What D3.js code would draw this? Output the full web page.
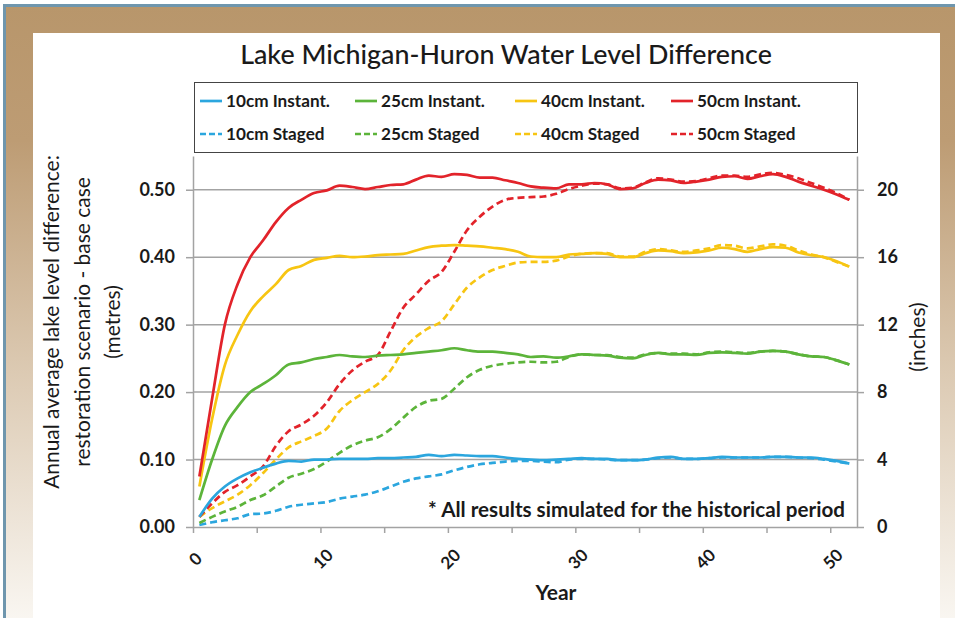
<!DOCTYPE html>
<html>
<head>
<meta charset="utf-8">
<script src="https://cdn.jsdelivr.net/npm/d3@7"></script>
<style>
  body { margin: 0; background: #fff; }
  text { font-family: Lato, "Open Sans", sans-serif; fill: #1a1a1a; }
</style>
</head>
<body>
<script>
// years are mid-year positions 0.5 .. 51.5
const years = d3.range(0.5, 52, 1);

const inst10 = [0.015,0.042,0.060,0.072,0.081,0.088,0.094,0.098,0.097,0.100,
  0.100,0.101,0.101,0.101,0.102,0.102,0.103,0.104,0.107,0.105,
  0.107,0.106,0.105,0.105,0.103,0.101,0.100,0.099,0.100,0.101,
  0.102,0.101,0.101,0.099,0.099,0.100,0.103,0.104,0.101,0.101,
  0.102,0.104,0.103,0.103,0.103,0.104,0.104,0.103,0.103,0.101,
  0.098,0.094];
const staged10 = [0.003,0.007,0.010,0.013,0.019,0.020,0.024,0.030,0.033,0.035,
  0.037,0.042,0.045,0.048,0.053,0.060,0.067,0.072,0.075,0.078,
  0.084,0.089,0.093,0.095,0.097,0.098,0.098,0.097,0.096,0.100,
  0.101,0.101,0.100,0.099,0.099,0.100,0.102,0.103,0.101,0.101,
  0.102,0.103,0.103,0.103,0.103,0.104,0.104,0.103,0.102,0.100,
  0.097,0.094];
const inst25 = [0.040,0.100,0.150,0.178,0.200,0.212,0.225,0.241,0.244,0.249,
  0.252,0.255,0.253,0.252,0.254,0.255,0.256,0.258,0.260,0.262,
  0.265,0.262,0.260,0.260,0.258,0.256,0.252,0.253,0.251,0.253,
  0.256,0.255,0.254,0.251,0.250,0.255,0.258,0.256,0.256,0.255,
  0.258,0.259,0.258,0.257,0.260,0.261,0.260,0.256,0.253,0.252,
  0.247,0.241];
const staged25 = [0.006,0.015,0.023,0.030,0.040,0.047,0.060,0.073,0.079,0.086,
  0.097,0.110,0.121,0.128,0.133,0.145,0.162,0.178,0.187,0.190,
  0.205,0.222,0.233,0.239,0.242,0.244,0.245,0.244,0.245,0.252,
  0.256,0.255,0.255,0.252,0.251,0.256,0.258,0.257,0.257,0.256,
  0.259,0.260,0.259,0.258,0.260,0.261,0.260,0.256,0.253,0.252,
  0.247,0.241];
const inst40 = [0.060,0.160,0.240,0.285,0.320,0.342,0.360,0.381,0.387,0.396,
  0.399,0.402,0.400,0.401,0.403,0.404,0.405,0.410,0.415,0.417,
  0.418,0.417,0.416,0.414,0.412,0.408,0.401,0.400,0.400,0.404,
  0.405,0.406,0.405,0.400,0.400,0.406,0.410,0.409,0.406,0.407,
  0.410,0.414,0.412,0.408,0.412,0.415,0.414,0.407,0.403,0.400,
  0.394,0.386];
const staged40 = [0.015,0.028,0.038,0.048,0.062,0.080,0.100,0.118,0.127,0.135,
  0.146,0.172,0.188,0.200,0.212,0.232,0.262,0.282,0.295,0.305,
  0.330,0.355,0.370,0.381,0.387,0.392,0.393,0.393,0.395,0.401,
  0.405,0.406,0.406,0.401,0.401,0.408,0.412,0.410,0.408,0.410,
  0.413,0.418,0.417,0.413,0.416,0.419,0.417,0.410,0.404,0.400,
  0.393,0.386];
const inst50 = [0.075,0.190,0.300,0.360,0.400,0.425,0.452,0.473,0.485,0.495,
  0.499,0.506,0.504,0.501,0.504,0.507,0.508,0.515,0.521,0.519,
  0.523,0.522,0.518,0.518,0.514,0.510,0.505,0.503,0.502,0.508,
  0.508,0.510,0.508,0.501,0.502,0.510,0.515,0.514,0.510,0.512,
  0.515,0.519,0.520,0.516,0.520,0.523,0.519,0.512,0.506,0.500,
  0.493,0.485];
const staged50 = [0.015,0.035,0.052,0.062,0.075,0.090,0.120,0.142,0.152,0.165,
  0.185,0.212,0.232,0.245,0.255,0.290,0.325,0.345,0.365,0.378,
  0.408,0.440,0.460,0.475,0.485,0.488,0.489,0.490,0.494,0.501,
  0.506,0.509,0.508,0.502,0.503,0.511,0.517,0.515,0.512,0.513,
  0.517,0.521,0.521,0.519,0.523,0.525,0.522,0.517,0.510,0.503,
  0.495,0.485];

const seriesNames = ["10cm Instant.", "25cm Instant.", "40cm Instant.", "50cm Instant.",
  "10cm Staged", "25cm Staged", "40cm Staged", "50cm Staged"];
const seriesValues = [inst10, inst25, inst40, inst50, staged10, staged25, staged40, staged50];
const colors = ["#2ba6de", "#5cb43a", "#f7c512", "#e2232a"];

const metreTicks = [0, 0.1, 0.2, 0.3, 0.4, 0.5];
const inchTicks = [0, 4, 8, 12, 16, 20];
const yearTicks = [0, 5, 10, 15, 20, 25, 30, 35, 40, 45, 50];

const W = 955, H = 618;
const margin = { top: 156, right: 98, bottom: 91, left: 193 };

const svg = d3.select("body").append("svg").attr("width", W).attr("height", H);

// scale a text's font size so that it spans the wanted width
function fitWidth(sel, width) {
  const fs = parseFloat(sel.attr("font-size"));
  const w = sel.node().getComputedTextLength();
  const size = fs * width / w;
  sel.attr("font-size", size);
  return size;
}

// frame: blue rule, tan gradient, white panel
const defs = svg.append("defs");
const grad = defs.append("linearGradient").attr("id", "frame")
  .attr("x1", 0).attr("y1", 0).attr("x2", 0).attr("y2", 1);
grad.append("stop").attr("offset", "0%").attr("stop-color", "#b8966b");
grad.append("stop").attr("offset", "22%").attr("stop-color", "#bd9c74");
grad.append("stop").attr("offset", "60%").attr("stop-color", "#dccab3");
grad.append("stop").attr("offset", "100%").attr("stop-color", "#f9f6f1");

svg.append("rect").attr("x", 0).attr("y", 0).attr("width", W).attr("height", H).attr("fill", "#fff");
svg.append("rect").attr("x", 5).attr("y", 6).attr("width", W - 5).attr("height", H - 6).attr("fill", "url(#frame)");
svg.append("rect").attr("x", 3).attr("y", 4).attr("width", 3).attr("height", H - 4).attr("fill", "#6f96ad");
svg.append("rect").attr("x", 3).attr("y", 4).attr("width", W - 3).attr("height", 3).attr("fill", "#6f96ad");
svg.append("rect").attr("x", 33).attr("y", 33).attr("width", 907).attr("height", H - 33).attr("fill", "#fff");

const x = d3.scaleLinear().domain([0, 52.1]).range([margin.left, W - margin.right]);
const y = d3.scaleLinear().domain([0, 0.55]).range([H - margin.bottom, margin.top]);
const yR = d3.scaleLinear().domain([0, 22]).range([H - margin.bottom, margin.top]);

// gridlines
svg.append("g").selectAll("line").data(metreTicks.slice(1)).join("line")
  .attr("x1", x.range()[0]).attr("x2", x.range()[1])
  .attr("y1", d => y(d)).attr("y2", d => y(d))
  .attr("stroke", "#a3a3a3").attr("stroke-width", 1.5);

function styleAxis(g) {
  g.select(".domain").attr("stroke", "#a3a3a3").attr("stroke-width", 1.5);
  g.selectAll(".tick line").attr("stroke", "#a3a3a3").attr("stroke-width", 1.5);
  g.selectAll("text").attr("font-family", "Lato").attr("font-weight", 700)
    .attr("font-size", 18).attr("fill", "#1a1a1a");
}

const xAxis = svg.append("g").attr("transform", `translate(0,${y(0)})`)
  .call(d3.axisBottom(x).tickValues(yearTicks).tickSize(6).tickSizeOuter(0)
    .tickFormat(d => d % 10 === 0 ? d : ""))
  .call(styleAxis);
xAxis.selectAll("text").attr("font-size", 17)
  .attr("text-anchor", "middle").attr("dy", null)
  .attr("transform", "translate(0,30) rotate(-45)");

svg.append("g").attr("transform", `translate(${x.range()[0]},0)`)
  .call(d3.axisLeft(y).tickValues(metreTicks).tickSize(7).tickSizeOuter(0).tickFormat(d3.format(".2f")))
  .call(styleAxis)
  .call(g => g.selectAll("text").attr("x", -18));

svg.append("g").attr("transform", `translate(${x.range()[1]},0)`)
  .call(d3.axisRight(yR).tickValues(inchTicks).tickSize(7).tickSizeOuter(0))
  .call(styleAxis)
  .call(g => g.selectAll("text").attr("x", 20));

// lines
const line = d3.line().x((d, i) => x(years[i])).y(d => y(d)).curve(d3.curveMonotoneX);
const drawOrder = [4, 5, 6, 7, 0, 1, 2, 3];
svg.append("g").selectAll("path").data(drawOrder).join("path")
  .attr("d", k => line(seriesValues[k]))
  .attr("fill", "none")
  .attr("stroke", k => colors[k % 4])
  .attr("stroke-width", 2.7)
  .attr("stroke-dasharray", k => k >= 4 ? "7,4" : null);

// title
const title = svg.append("text").attr("x", 506).attr("y", 64).attr("text-anchor", "middle")
  .attr("font-size", 23).attr("font-weight", 500).text("Lake Michigan-Huron Water Level Difference");
fitWidth(title, 532);

// legend
const lg = svg.append("g");
lg.append("rect").attr("x", 194.5).attr("y", 82.5).attr("width", 663).attr("height", 70)
  .attr("fill", "#fff").attr("stroke", "#444").attr("stroke-width", 1);
const legX = [200, 355, 515, 671];
const legY = [101, 134];
const items = lg.selectAll("g.item").data(seriesNames).join("g")
  .attr("transform", (d, i) => `translate(${legX[i % 4]},${legY[Math.floor(i / 4)]})`);
items.append("line").attr("x1", 0).attr("x2", 22).attr("y1", 0).attr("y2", 0)
  .attr("stroke", (d, i) => colors[i % 4]).attr("stroke-width", 2.7)
  .attr("stroke-dasharray", (d, i) => i >= 4 ? "6,3" : null);
const legText = items.append("text").attr("x", 26).attr("y", 6).attr("font-size", 16).attr("font-weight", 700)
  .text(d => d);
const legSize = fitWidth(d3.select(legText.nodes()[0]), 104);
legText.attr("font-size", legSize);

// annotation
const note = svg.append("text").attr("x", 845).attr("y", 517).attr("text-anchor", "end")
  .attr("font-size", 17).attr("font-weight", 700)
  .text("* All results simulated for the historical period");
fitWidth(note, 417);

// axis titles
const yTitle = ["Annual average lake level difference:", "restoration scenario - base case", "(metres)"];
const yTitleText = svg.append("g").selectAll("text").data(yTitle).join("text")
  .attr("transform", (d, i) => `translate(${59 + i * 30.5},322) rotate(-90)`)
  .attr("text-anchor", "middle").attr("font-size", 19.5).text(d => d);
const yTitleSize = fitWidth(d3.select(yTitleText.nodes()[0]), 334);
yTitleText.attr("font-size", yTitleSize);

svg.append("text").attr("transform", "translate(925,337) rotate(-90)")
  .attr("text-anchor", "middle").attr("font-size", yTitleSize).text("(inches)");

svg.append("text").attr("x", 556).attr("y", 600).attr("text-anchor", "middle")
  .attr("font-size", 21).attr("font-weight", 700).text("Year");
</script>
</body>
</html>
